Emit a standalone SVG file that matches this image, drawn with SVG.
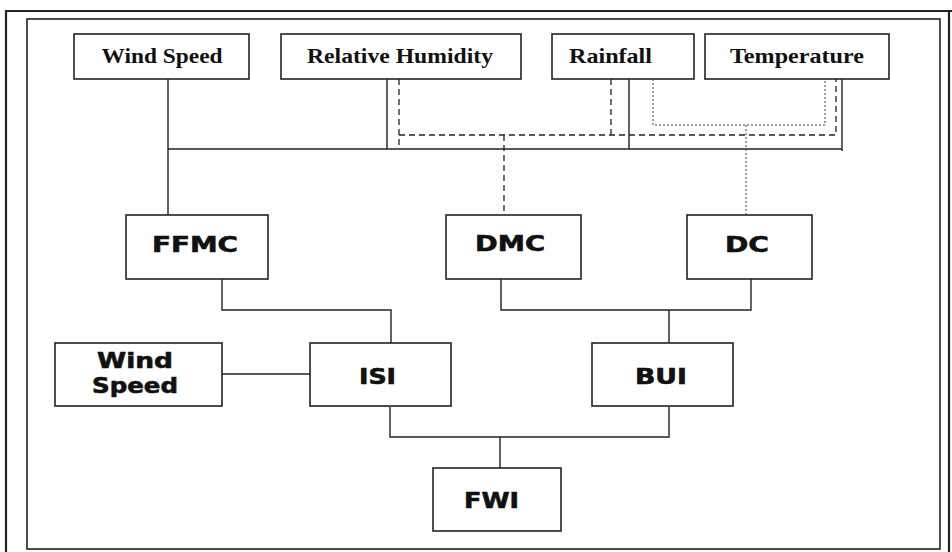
<svg xmlns="http://www.w3.org/2000/svg" width="952" height="552" viewBox="0 0 952 552">
<style>
.box{fill:#fff;stroke:#222;stroke-width:1.6}
.frame{fill:none;stroke:#222}
.ln{fill:none;stroke:#222;stroke-width:1.4}
.dash{fill:none;stroke:#222;stroke-width:1.3;stroke-dasharray:6 4}
.dot{fill:none;stroke:#444;stroke-width:1;stroke-dasharray:2 2}
.ser{font-family:"Liberation Serif","Times New Roman",serif;font-weight:bold;font-size:21px;fill:#111}
.san{font-family:"DejaVu Sans","Liberation Sans",Arial,sans-serif;font-weight:bold;font-size:21px;fill:#111;stroke:#111;stroke-width:0.6}
</style>
<rect width="952" height="552" fill="#fff"/>
<g id="frame">
<path class="frame" stroke-width="2.2" d="M6,552 V11 H952 M949,11 V552"/>
<rect class="frame" stroke-width="1.6" x="27" y="19" width="913" height="530"/>
</g>
<g id="connectors">
<path class="ln" d="M168,79 V215 M168,149 H842 V151 M387,79 V149 M629,79 V149 M842,79 V149"/>
<path class="dash" d="M399,79 V146 M399,135 H836 V79 M611,79 V135 M504,135 V215"/>
<path class="dot" d="M653,79 V125 H825 V79 M746,125 V215"/>
<path class="ln" d="M222,279 V310 H391 V343 M222,374 H310"/>
<path class="ln" d="M501,279 V310 H751 V279 M669,310 V343"/>
<path class="ln" d="M390,407 V437 H669 V407 M500,437 V468"/>
</g>
<g id="n-wind-speed"><rect class="box" x="74" y="34" width="175" height="45"/><text class="ser" x="162" y="63" text-anchor="middle" textLength="121" lengthAdjust="spacingAndGlyphs">Wind Speed</text></g>
<g id="n-rh"><rect class="box" x="281" y="34" width="240" height="45"/><text class="ser" x="400" y="63" text-anchor="middle" textLength="186" lengthAdjust="spacingAndGlyphs">Relative Humidity</text></g>
<g id="n-rainfall"><rect class="box" x="552" y="34" width="142" height="45"/><text class="ser" x="610.5" y="63" text-anchor="middle" textLength="83" lengthAdjust="spacingAndGlyphs">Rainfall</text></g>
<g id="n-temperature"><rect class="box" x="705" y="34" width="184" height="45"/><text class="ser" x="797" y="63" text-anchor="middle" textLength="134" lengthAdjust="spacingAndGlyphs">Temperature</text></g>
<g id="n-ffmc"><rect class="box" x="126" y="215" width="142" height="64"/><text class="san" x="195" y="252" text-anchor="middle" textLength="86" lengthAdjust="spacingAndGlyphs">FFMC</text></g>
<g id="n-dmc"><rect class="box" x="446" y="215" width="135" height="64"/><text class="san" x="510" y="251" text-anchor="middle" textLength="70" lengthAdjust="spacingAndGlyphs">DMC</text></g>
<g id="n-dc"><rect class="box" x="687" y="215" width="125" height="64"/><text class="san" x="747" y="252" text-anchor="middle" textLength="44" lengthAdjust="spacingAndGlyphs">DC</text></g>
<g id="n-wind-speed-2"><rect class="box" x="55" y="343" width="167" height="63"/><text class="san" x="135" y="368" text-anchor="middle" textLength="76" lengthAdjust="spacingAndGlyphs">Wind</text><text class="san" x="135" y="393" text-anchor="middle" textLength="86" lengthAdjust="spacingAndGlyphs">Speed</text></g>
<g id="n-isi"><rect class="box" x="310" y="343" width="141" height="63"/><text class="san" x="377.5" y="384" text-anchor="middle" textLength="37" lengthAdjust="spacingAndGlyphs">ISI</text></g>
<g id="n-bui"><rect class="box" x="592" y="343" width="141" height="63"/><text class="san" x="661" y="384" text-anchor="middle" textLength="52" lengthAdjust="spacingAndGlyphs">BUI</text></g>
<g id="n-fwi"><rect class="box" x="433" y="468" width="128" height="63"/><text class="san" x="491.5" y="508" text-anchor="middle" textLength="55" lengthAdjust="spacingAndGlyphs">FWI</text></g>
</svg>
